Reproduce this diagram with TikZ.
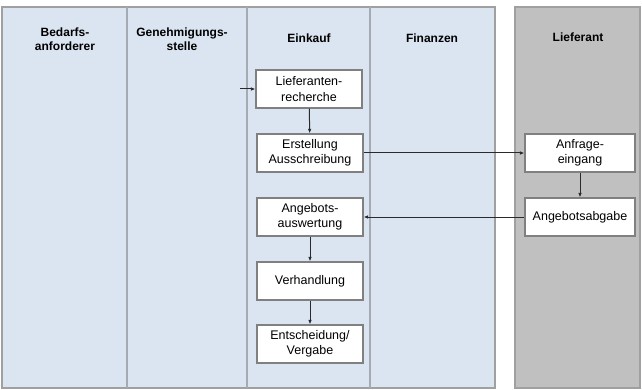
\documentclass[tikz,border=0pt]{standalone}
\usepackage{fontspec}
\setmainfont{Liberation Sans}
\usetikzlibrary{arrows.meta}
\definecolor{lanefill}{HTML}{DBE5F1}
\definecolor{poolline}{HTML}{A0A0A0}
\definecolor{divline}{HTML}{A4ABB4}
\definecolor{grayfill}{HTML}{C0C0C0}
\definecolor{boxline}{HTML}{808080}
\definecolor{arrowc}{HTML}{2A2A2A}
\tikzset{
  pool/.style={draw=poolline, line width=2pt},
  laneline/.style={draw=divline, line width=1.5pt},
  hdr/.style={font=\fontsize{12}{14}\selectfont\bfseries, align=center, text=black},
  task/.style={draw=boxline, fill=white, line width=1.1pt, minimum width=106pt, minimum height=38pt, inner sep=1pt, align=center, font=\fontsize{12.5}{15.5}\selectfont, text=black},
  flow/.style={draw=arrowc, line width=1pt, -{Latex[length=4.5pt,width=3.5pt]}}
}
\begin{document}
\begin{tikzpicture}[x=1pt,y=-1pt]
\useasboundingbox (0,0) rectangle (642,390);
% pools
\path[pool, fill=lanefill] (2,7) rectangle (495,388);
\path[pool, fill=grayfill] (515,7) rectangle (640,388);
\draw[laneline] (127,7) -- (127,388);
\draw[laneline] (247,7) -- (247,388);
\draw[laneline] (370,7) -- (370,388);
% headers
\node[hdr] (h1) at (65,39) {Bedarfs-\\anforderer};
\node[hdr] (h2) at (182,39) {Genehmigungs-\\stelle};
\node[hdr] (h3) at (309,38) {Einkauf};
\node[hdr] (h4) at (432,38) {Finanzen};
\node[hdr] (h5) at (578,37) {Lieferant};
% tasks
\node[task] (t1) at (309,89) {Lieferanten-\\recherche};
\node[task] (t2) at (310,153) {Erstellung\\Ausschreibung};
\node[task] (t3) at (310,217) {Angebots-\\auswertung};
\node[task] (t4) at (310,281) {Verhandlung};
\node[task] (t5) at (310,344) {Entscheidung/\\Vergabe};
\node[task, minimum width=110pt] (l1) at (580,153) {Anfrage-\\eingang};
\node[task, minimum width=110pt] (l2) at (580,217) {Angebotsabgabe};
% connectors
\coordinate (in) at (240,89);
\draw[flow] (in) -- (t1.west);
\draw[flow] (t1) -- (t2);
\draw[flow] (t2) -- (l1);
\draw[flow] (l1) -- (l2);
\draw[flow] (l2) -- (t3);
\draw[flow] (t3) -- (t4);
\draw[flow] (t4) -- (t5);
\end{tikzpicture}
\end{document}
